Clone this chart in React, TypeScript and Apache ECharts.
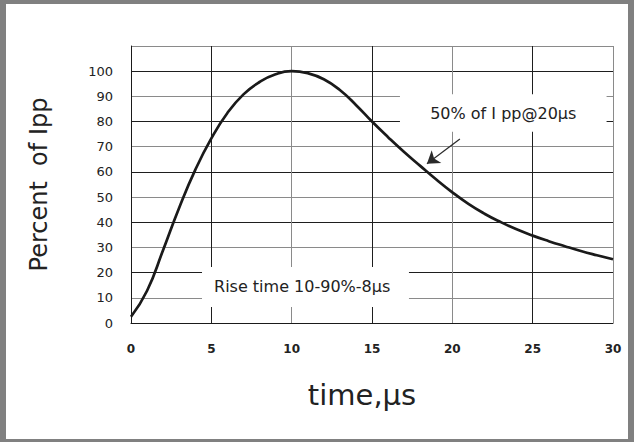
import React, { useEffect, useRef } from "react";
import * as echarts from "echarts";

// time (µs) and percent of Ipp
const timeUs = [0, 1, 2, 3, 4, 5, 6, 7, 8, 9, 10, 11, 12, 13, 14, 15, 16, 17, 18, 19, 20, 21, 22, 23, 24, 25, 26, 27, 28, 29, 30];
const percentIpp = [2.5, 12.8, 29.0, 45.8, 60.8, 73.3, 83.4, 90.8, 95.7, 98.8, 100, 99.2, 96.8, 92.5, 86.6, 80.0, 73.8, 67.9, 62.4, 57.0, 51.9, 47.3, 43.4, 40.1, 37.2, 34.7, 32.5, 30.5, 28.6, 26.9, 25.3];

const xMin = 0;
const xMax = 30;
const xStep = 5;
const yMin = 0;
const yMax = 110;
const yStep = 10;

const peakNote = "50% of I pp@20µs";
const peakBox = [16.74, 90.8, 29.6, 75.9]; // x1, y1, x2, y2 in data units
const arrowFrom = [20.47, 73.1];
const arrowTo = [18.42, 63.2];
const riseNote = "Rise time 10-90%-8µs";
const riseBox = [4.42, 22.2, 17.3, 6.4];

const FONT = "'DejaVu Sans', 'Liberation Sans', sans-serif";
const INK = "#222";

export default function App() {
  const ref = useRef<HTMLDivElement>(null);

  useEffect(() => {
    if (!ref.current) return;
    const chart = echarts.init(ref.current, null, { renderer: "svg" });
    const data = timeUs.map((t, i) => [t, percentIpp[i]]);
    chart.setOption({
      animation: false,
      backgroundColor: "#fff",
      grid: { left: 131, right: 21, top: 46, bottom: 119, containLabel: false, outerBoundsMode: "none" },
      xAxis: {
        type: "value",
        min: xMin,
        max: xMax,
        interval: xStep,
        name: "time,µs",
        nameLocation: "middle",
        nameGap: 57,
        nameTextStyle: { fontFamily: FONT, fontSize: 29, color: INK, padding: [0, 20, 0, 0] },
        axisLine: { show: true, lineStyle: { color: "#1a1a1a", width: 1 } },
        axisTick: { show: false },
        axisLabel: { margin: 20, fontFamily: FONT, fontSize: 12, fontWeight: "bold", color: INK },
        splitLine: { show: true, lineStyle: { color: ["#8a8a8a", "#1e1e1e"], width: 1 } },
      },
      yAxis: {
        type: "value",
        min: yMin,
        max: yMax,
        interval: yStep,
        name: "Percent  of Ipp",
        nameLocation: "middle",
        nameRotate: 90,
        nameGap: 80,
        nameTextStyle: { fontFamily: FONT, fontSize: 24, color: INK },
        axisLine: { show: true, lineStyle: { color: "#1a1a1a", width: 1 } },
        axisTick: { show: false },
        axisLabel: {
          margin: 18,
          fontFamily: FONT,
          fontSize: 13,
          color: INK,
          formatter: (v: number) => (v > 100 ? "" : String(v)),
        },
        splitLine: { show: true, lineStyle: { color: ["#1e1e1e", "#8a8a8a"], width: 1 } },
      },
      series: [
        {
          type: "line",
          data,
          smooth: 0.5,
          showSymbol: false,
          lineStyle: { color: "#1a1a1a", width: 2.7 },
          silent: true,
          markArea: {
            silent: true,
            itemStyle: { color: "#ffffff", opacity: 1 },
            data: [
              [
                {
                  coord: [peakBox[0], peakBox[1]],
                  label: { show: true, position: "inside", formatter: peakNote, fontFamily: FONT, fontSize: 16, color: INK },
                },
                { coord: [peakBox[2], peakBox[3]] },
              ],
              [
                {
                  coord: [riseBox[0], riseBox[1]],
                  label: { show: true, position: "insideLeft", distance: 12, formatter: riseNote, fontFamily: FONT, fontSize: 16, color: INK },
                },
                { coord: [riseBox[2], riseBox[3]] },
              ],
            ],
          },
          markLine: {
            silent: true,
            symbol: ["none", "arrow"],
            symbolSize: 12,
            label: { show: false },
            lineStyle: { color: "#2a2a2a", width: 1.2, type: "solid" },
            data: [[{ coord: arrowFrom }, { coord: arrowTo }]],
          },
        },
      ],
    });
    return () => chart.dispose();
  }, []);

  return (
    <div style={{ position: "fixed", left: 0, top: 0, width: 634, height: 442, background: "#fff" }}>
      <div ref={ref} style={{ position: "absolute", left: 0, top: 0, width: 634, height: 442 }} />
      <div
        style={{
          position: "absolute",
          left: 0,
          top: 0,
          width: 634,
          height: 442,
          boxSizing: "border-box",
          borderStyle: "solid",
          borderColor: "#808080",
          borderWidth: "4px 6px 3px 6px",
          pointerEvents: "none",
        }}
      />
    </div>
  );
}
